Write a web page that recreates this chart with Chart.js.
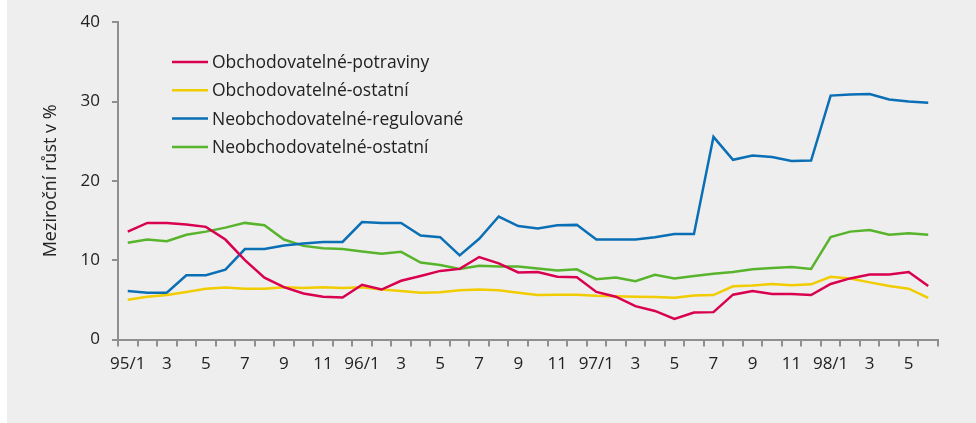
<!DOCTYPE html>
<html>
<head>
<meta charset="utf-8">
<script src="https://cdn.jsdelivr.net/npm/chart.js@4"></script>
<style>
  html, body { margin: 0; padding: 0; background: #fff; }
  #wrap { position: absolute; left: 7px; top: 0; width: 969px; height: 423px; background: #eeeeee; }
</style>
</head>
<body>
<div id="wrap"><canvas id="chart" width="969" height="423"></canvas></div>
<script>
// --- data ---
const months = [
  '95/1','2','3','4','5','6','7','8','9','10','11','12',
  '96/1','2','3','4','5','6','7','8','9','10','11','12',
  '97/1','2','3','4','5','6','7','8','9','10','11','12',
  '98/1','2','3','4','5','6'
];
const yTicks = [0, 10, 20, 30, 40];

const seriesNames = [
  'Obchodovatelné-potraviny',
  'Obchodovatelné-ostatní',
  'Neobchodovatelné-regulované',
  'Neobchodovatelné-ostatní'
];
const potraviny = [13.6,14.7,14.7,14.5,14.2,12.6,10.0,7.8,6.6,5.8,5.4,5.3,
  6.9,6.3,7.4,8.0,8.65,8.9,10.4,9.6,8.45,8.5,7.9,7.85,
  6.0,5.4,4.2,3.6,2.6,3.4,3.45,5.65,6.1,5.75,5.75,5.6,
  7.0,7.7,8.2,8.2,8.5,6.75];
const obchOstatni = [5.0,5.4,5.6,6.0,6.4,6.55,6.4,6.4,6.6,6.5,6.6,6.5,
  6.6,6.3,6.1,5.9,5.95,6.2,6.3,6.2,5.9,5.6,5.65,5.65,
  5.5,5.45,5.4,5.35,5.25,5.55,5.6,6.7,6.8,7.0,6.85,6.95,
  7.9,7.7,7.2,6.75,6.4,5.25];
const regulovane = [6.1,5.9,5.9,8.1,8.1,8.8,11.4,11.4,11.85,12.1,12.3,12.3,
  14.8,14.7,14.7,13.1,12.9,10.6,12.7,15.5,14.3,14.0,14.4,14.45,
  12.6,12.6,12.6,12.9,13.3,13.3,25.55,22.65,23.2,23.0,22.5,22.55,
  30.75,30.9,30.95,30.25,30.0,29.85];
const neobchOstatni = [12.2,12.6,12.4,13.2,13.6,14.1,14.7,14.4,12.6,11.8,11.5,11.4,
  11.1,10.8,11.05,9.7,9.4,8.9,9.3,9.2,9.2,8.95,8.7,8.85,
  7.6,7.8,7.35,8.15,7.7,8.0,8.3,8.5,8.85,9.0,9.15,8.9,
  12.9,13.6,13.8,13.2,13.4,13.2];
const colors = ['#d9004f', '#f0cc00', '#0a6fb5', '#59b42d'];

const FONT = '"Open Sans", Lato, sans-serif';
const axisGray = '#8f8f8f';

// legend drawn inside the plot, top-left
const innerLegend = {
  id: 'innerLegend',
  afterDatasetsDraw(chart) {
    const ctx = chart.ctx;
    ctx.save();
    ctx.font = '17.5px ' + FONT;
    ctx.textBaseline = 'middle';
    ctx.fillStyle = '#222';
    chart.data.datasets.forEach((ds, i) => {
      const y = 62 + i * 28.3;
      ctx.strokeStyle = ds.borderColor;
      ctx.lineWidth = 2.5;
      ctx.beginPath();
      ctx.moveTo(165, y);
      ctx.lineTo(201, y);
      ctx.stroke();
      ctx.fillText(ds.label, 205, y + 1);
    });
    ctx.restore();
  }
};

const allSeries = [potraviny, obchOstatni, regulovane, neobchOstatni];

new Chart(document.getElementById('chart'), {
  type: 'line',
  data: {
    labels: months,
    datasets: allSeries.map((d, i) => ({
      label: seriesNames[i],
      data: d,
      borderColor: colors[i],
      borderWidth: 2.5,
      pointRadius: 0,
      tension: 0,
      fill: false
    }))
  },
  plugins: [innerLegend],
  options: {
    responsive: false,
    animation: false,
    layout: { padding: { top: 22, right: 38, left: 0, bottom: 0 } },
    plugins: { legend: { display: false }, tooltip: { enabled: false } },
    scales: {
      x: {
        offset: true,
        grid: { offset: true, drawOnChartArea: false, drawTicks: true, tickLength: 7, color: axisGray, lineWidth: 2 },
        border: { display: true, color: axisGray, width: 2 },
        ticks: {
          autoSkip: false,
          maxRotation: 0,
          padding: 7,
          color: '#222',
          font: { family: FONT, size: 17 },
          callback: (v, i) => (i % 2 === 0 ? months[i] : '')
        },
        afterFit: s => { s.height = 423 - 339.5; }
      },
      y: {
        min: 0,
        max: 40,
        afterBuildTicks: s => { s.ticks = yTicks.map(v => ({ value: v })); },
        grid: { drawOnChartArea: false, drawTicks: true, tickLength: 6, color: axisGray, lineWidth: 2 },
        border: { display: true, color: axisGray, width: 2 },
        ticks: { padding: 12, color: '#222', font: { family: FONT, size: 17 } },
        title: {
          display: true,
          text: 'Meziroční růst v %',
          color: '#222',
          font: { family: FONT, size: 18 },
          padding: { top: 33, bottom: 0 }
        },
        afterFit: s => { s.width = 111; }
      }
    }
  }
});
</script>
</body>
</html>
